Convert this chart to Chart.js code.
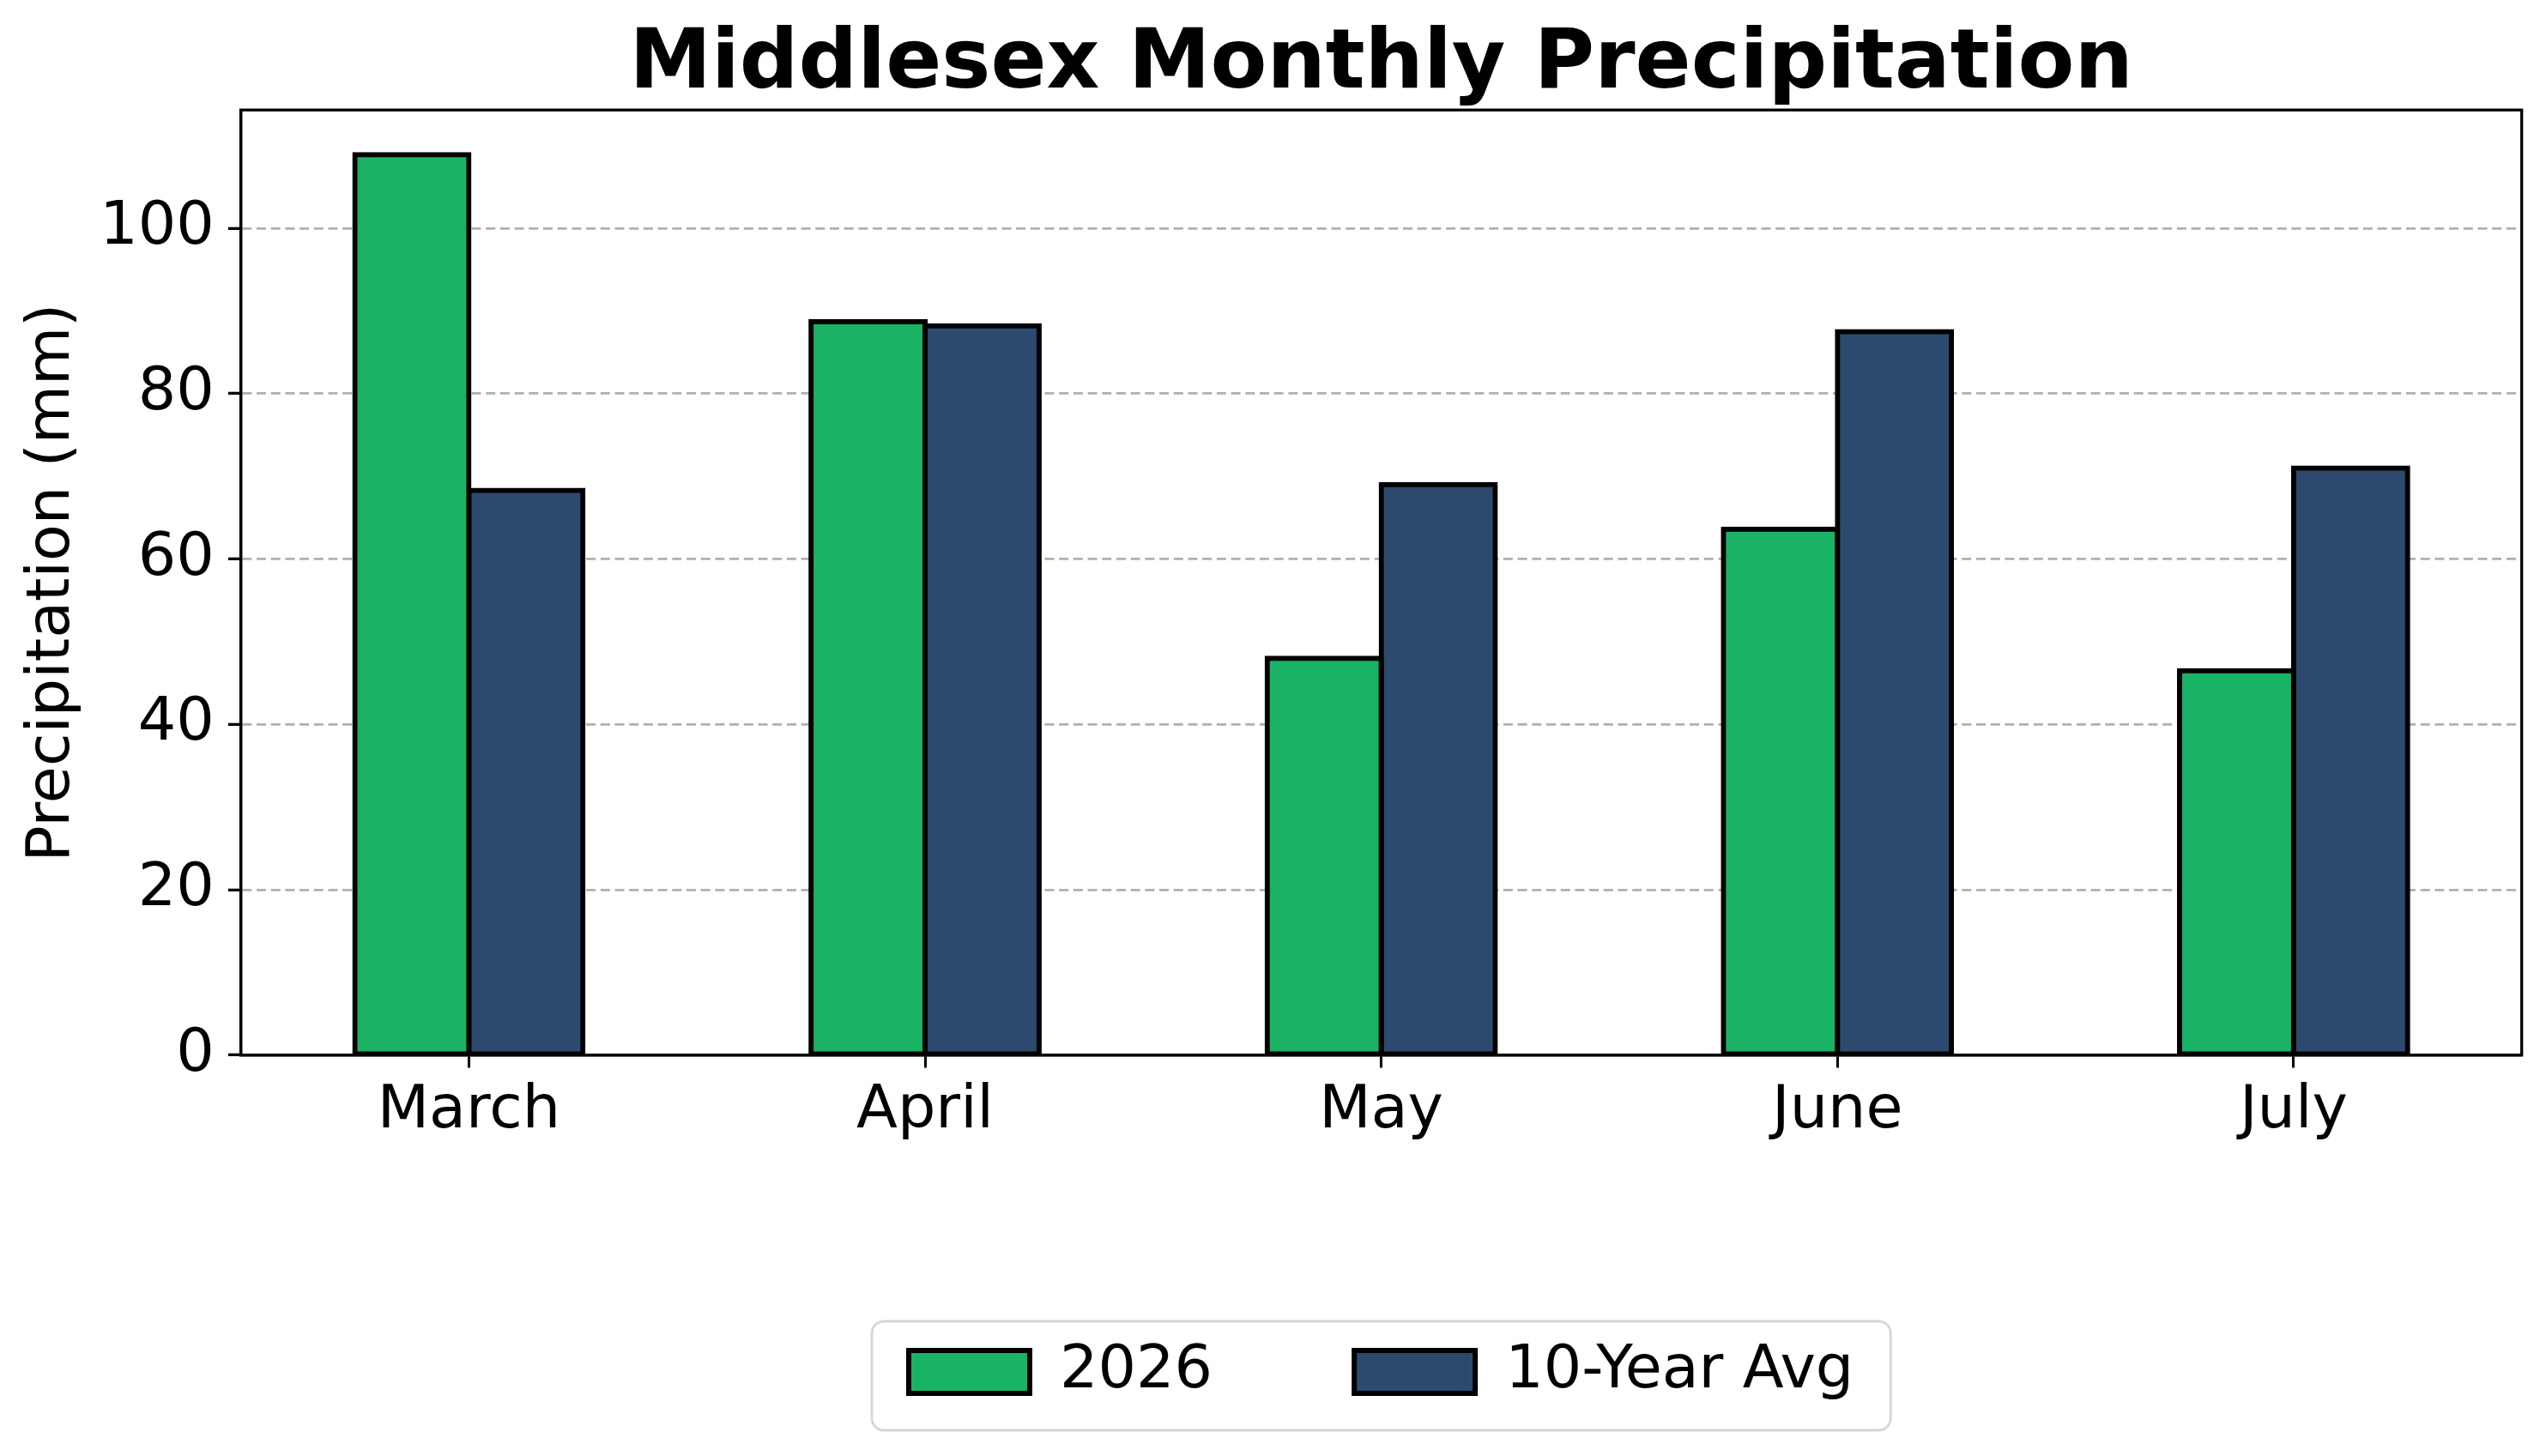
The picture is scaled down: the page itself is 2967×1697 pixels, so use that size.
<!DOCTYPE html>
<html>
<head>
<meta charset="utf-8">
<script src="https://cdn.jsdelivr.net/npm/chart.js@4.4.1/dist/chart.umd.min.js"></script>
<style>
  html, body { margin: 0; padding: 0; background: #ffffff; }
  #wrap { width: 2967px; height: 1697px; position: relative; }
</style>
</head>
<body>
<div id="wrap"><canvas id="c"></canvas></div>
<script>
// ---- data ----
const months = ['March', 'April', 'May', 'June', 'July'];
const precip2026 = [108.9, 88.7, 48.0, 63.6, 46.5];
const precipAvg10 = [68.3, 88.2, 69.0, 87.5, 71.0];
const yTicks = [0, 20, 40, 60, 80, 100];
const seriesLabels = ['2026', '10-Year Avg'];
const chartTitle = 'Middlesex Monthly Precipitation';
const yAxisTitle = 'Precipitation (mm)';
const yMax = 114.3;

const FONT = '"DejaVu Sans", "Liberation Sans", sans-serif';
const LEGEND_PAD = 165;

const whiteBg = {
  id: 'whiteBg',
  beforeDraw(chart) {
    const ctx = chart.ctx;
    ctx.save();
    ctx.fillStyle = '#ffffff';
    ctx.fillRect(0, 0, chart.width, chart.height);
    // legend frame
    const lg = chart.legend;
    if (lg && lg.lineWidths) {
      const cx = (lg.left + lg.right) / 2;
      const halfW = (lg.lineWidths[0] - LEGEND_PAD) / 2 + 43;
      const itemY = lg.top + LEGEND_PAD;
      const x0 = cx - halfW, x1 = cx + halfW;
      const y0 = itemY - 24, y1 = itemY + 70 + 33;
      const r = 14;
      ctx.beginPath();
      ctx.moveTo(x0 + r, y0);
      ctx.lineTo(x1 - r, y0);
      ctx.arcTo(x1, y0, x1, y0 + r, r);
      ctx.lineTo(x1, y1 - r);
      ctx.arcTo(x1, y1, x1 - r, y1, r);
      ctx.lineTo(x0 + r, y1);
      ctx.arcTo(x0, y1, x0, y1 - r, r);
      ctx.lineTo(x0, y0 + r);
      ctx.arcTo(x0, y0, x0 + r, y0, r);
      ctx.closePath();
      ctx.fillStyle = '#ffffff';
      ctx.fill();
      ctx.lineWidth = 2.8;
      ctx.strokeStyle = '#d6d6d6';
      ctx.stroke();
    }
    ctx.restore();
  }
};

const frame = {
  id: 'frame',
  afterDatasetsDraw(chart) {
    const {ctx, chartArea: a} = chart;
    ctx.save();
    ctx.strokeStyle = '#000000';
    ctx.lineWidth = 3.3;
    ctx.strokeRect(a.left, a.top, a.right - a.left, a.bottom - a.top);
    ctx.restore();
  }
};

new Chart(document.getElementById('c'), {
  type: 'bar',
  data: {
    labels: months,
    datasets: [
      {
        label: seriesLabels[0],
        data: precip2026,
        backgroundColor: '#1AB366',
        borderColor: '#000000',
        borderWidth: 6,
        borderSkipped: false,
        inflateAmount: 3,
        categoryPercentage: 0.5,
        barPercentage: 1.0
      },
      {
        label: seriesLabels[1],
        data: precipAvg10,
        backgroundColor: '#2C4A6E',
        borderColor: '#000000',
        borderWidth: 6,
        borderSkipped: false,
        inflateAmount: 3,
        categoryPercentage: 0.5,
        barPercentage: 1.0
      }
    ]
  },
  options: {
    responsive: true,
    maintainAspectRatio: false,
    devicePixelRatio: 1,
    animation: false,
    layout: { padding: { left: 0, right: 28.3, top: 0, bottom: 53 } },
    plugins: {
      tooltip: { enabled: false },
      title: {
        display: true,
        text: chartTitle,
        fullSize: false,
        color: '#000000',
        font: { family: FONT, size: 96, weight: 'bold', lineHeight: 1.0646 },
        padding: { top: 26, bottom: 0 }
      },
      legend: {
        display: true,
        position: 'bottom',
        fullSize: false,
        align: 'center',
        labels: {
          color: '#000000',
          font: { family: FONT, size: 70 },
          boxWidth: 141,
          boxHeight: 50,
          padding: LEGEND_PAD
        }
      }
    },
    scales: {
      x: {
        offset: true,
        afterFit(scale) { scale.height = 169.2; },
        grid: {
          display: true,
          drawOnChartArea: false,
          drawTicks: true,
          offset: false,
          tickLength: 14.7,
          tickWidth: 3,
          tickColor: '#000000'
        },
        border: { display: true, color: '#000000', width: 3.3 },
        ticks: {
          color: '#000000',
          font: { family: FONT, size: 70 },
          padding: 9,
          maxRotation: 0,
          autoSkip: false
        }
      },
      y: {
        min: 0,
        max: yMax,
        afterFit(scale) { scale.width = 280.6; },
        afterBuildTicks(scale) { scale.ticks = yTicks.map(v => ({ value: v })); },
        grid: {
          display: true,
          drawOnChartArea: true,
          drawTicks: true,
          color: '#b0b0b0',
          lineWidth: 2.7,
          tickLength: 14.7,
          tickWidth: 3.3,
          tickColor: '#000000',
          tickBorderDash: []
        },
        border: { display: true, color: '#000000', width: 3.3, dash: [11, 5.7] },
        ticks: {
          color: '#000000',
          font: { family: FONT, size: 70 },
          padding: 16
        },
        title: {
          display: true,
          text: yAxisTitle,
          color: '#000000',
          font: { family: FONT, size: 70, lineHeight: 1.2 },
          padding: { top: 20, bottom: 0 }
        }
      }
    }
  },
  plugins: [whiteBg, frame]
});
</script>
</body>
</html>
